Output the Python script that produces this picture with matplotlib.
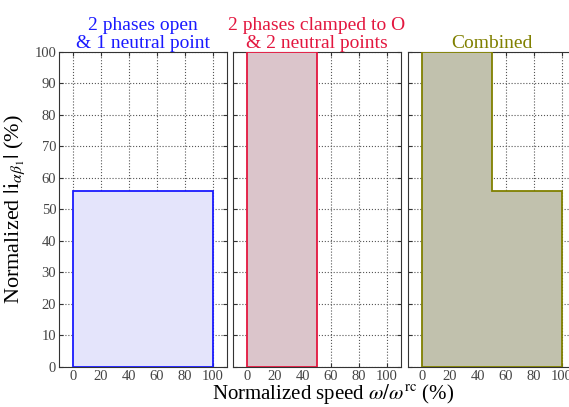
import numpy as np
import matplotlib.pyplot as plt

plt.rcParams['font.family'] = ['Liberation Serif', 'DejaVu Serif']
plt.rcParams['mathtext.fontset'] = 'stix'

# speed (%) breakpoints and current level (%) for each mode
speed_open = [0, 100]
level_open = [56, 56]
speed_clamp = [0, 50]
level_clamp = [100, 100]
speed_comb = [0, 50, 50, 100]
level_comb = [100, 100, 56, 56]

titles = ['2 phases open\n& 1 neutral point',
          '2 phases clamped to O\n& 2 neutral points',
          'Combined']
title_colors = ['#1a1aff', '#e3173f', '#808000']
edge_colors = ['#1a1aff', '#e3173f', '#808000']
fill_colors = ['#e4e4fb', '#dbc5cb', '#c1c1ad']
xticks = [0, 20, 40, 60, 80, 100]
yticks = list(range(0, 101, 10))

fig = plt.figure(figsize=(5.69, 4.07), dpi=100)
lefts = [0.1037, 0.4095, 0.717]
w = 0.295
axes = [fig.add_axes([l, 0.0983, w, 0.774]) for l in lefts]

data = [(speed_open, level_open), (speed_clamp, level_clamp), (speed_comb, level_comb)]
for i, ax in enumerate(axes):
    xs, ys = data[i]
    px = [xs[0]] + list(xs) + [xs[-1]]
    py = [0] + list(ys) + [0]
    ax.fill(px, py, facecolor=fill_colors[i], edgecolor=edge_colors[i], lw=1.3, zorder=3)
    ax.set_xlim(-10, 110)
    ax.set_ylim(0, 100)
    ax.set_xticks(xticks)
    ax.set_yticks(yticks)
    ax.set_axisbelow(True)
    ax.grid(True, ls=':', color='#555555', lw=0.8)
    ax.tick_params(direction='in', top=True, right=True, labelsize=10.5, colors='#333333',
                   labelcolor='#444444', length=3, pad=2)
    for s in ax.spines.values():
        s.set_color('#333333')
    ax.set_title(titles[i], color=title_colors[i], fontsize=14, linespacing=1.1, pad=3)
    if i > 0:
        ax.set_yticklabels([])

axes[0].set_ylabel(r'Normalized $|\mathrm{i}_{\alpha\beta_1}|$ (%)', fontsize=16, labelpad=5)
fig.text(0.585, 0.002, r'Normalized speed $\omega/\omega^{\mathrm{rc}}$ (%)', fontsize=15,
         ha='center', va='bottom')

fig.savefig('out.png', dpi=100)
